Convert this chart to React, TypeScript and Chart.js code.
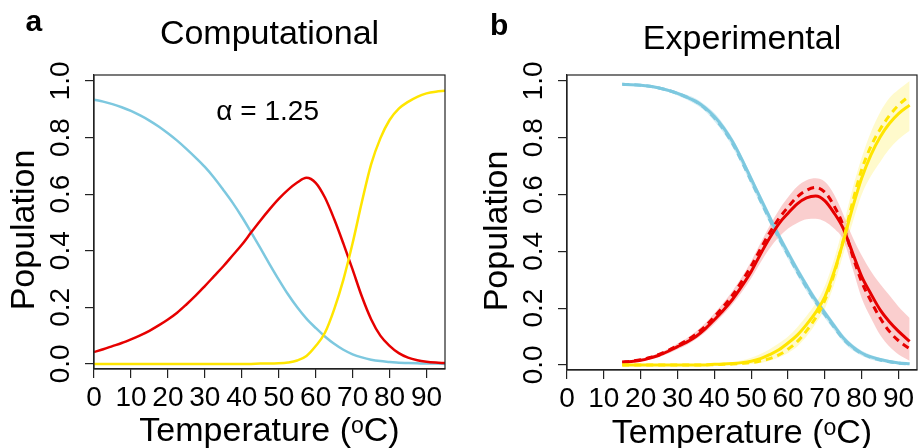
import React, { useEffect, useRef } from "react";
import { Chart, registerables } from "chart.js";

Chart.register(...registerables);

const FONT = "'Liberation Sans', Arial, Helvetica, sans-serif";

// ---------- Panel a (Computational) ----------
const tempA = [0, 2.5, 5, 7.5, 10, 12.5, 15, 17.5, 20, 22.5, 25, 27.5, 30, 32.5, 35, 37.5, 40, 42.5, 45, 47.5, 50, 52.5, 55, 57.5, 60, 62.5, 65, 67.5, 70, 72.5, 75, 77.5, 80, 82.5, 85, 87.5, 90, 92.5, 95];
const blueA = [0.934, 0.927, 0.918, 0.907, 0.894, 0.878, 0.86, 0.839, 0.815, 0.789, 0.76, 0.729, 0.696, 0.658, 0.615, 0.57, 0.52, 0.466, 0.41, 0.353, 0.298, 0.246, 0.2, 0.16, 0.127, 0.097, 0.071, 0.05, 0.034, 0.023, 0.015, 0.01, 0.007, 0.004, 0.003, 0.002, 0.001, 0.001, 0.0];
const redA = [0.042, 0.052, 0.063, 0.074, 0.087, 0.101, 0.117, 0.136, 0.157, 0.181, 0.21, 0.241, 0.275, 0.31, 0.345, 0.383, 0.421, 0.464, 0.506, 0.546, 0.583, 0.615, 0.641, 0.658, 0.64, 0.588, 0.512, 0.425, 0.333, 0.238, 0.158, 0.1, 0.064, 0.038, 0.022, 0.013, 0.008, 0.005, 0.003];
const yellowA = [0, 0, 0, 0, 0, 0, 0, 0, 0, 0, 0, 0, 0, 0, 0, 0, 0, 0, 0.001, 0.001, 0.002, 0.005, 0.012, 0.028, 0.063, 0.11, 0.193, 0.298, 0.427, 0.572, 0.705, 0.797, 0.862, 0.902, 0.926, 0.944, 0.956, 0.962, 0.965];

// ---------- Panel b (Experimental) ----------
const tempB = [15, 17.5, 20, 22.5, 25, 27.5, 30, 32.5, 35, 37.5, 40, 42.5, 45, 47.5, 50, 52.5, 55, 57.5, 60, 62.5, 65, 67.5, 70, 72.5, 75, 77.5, 80, 82.5, 85, 87.5, 90, 93];
const blueB = [0.988, 0.987, 0.985, 0.981, 0.975, 0.967, 0.956, 0.943, 0.928, 0.905, 0.875, 0.835, 0.785, 0.723, 0.655, 0.587, 0.52, 0.455, 0.394, 0.335, 0.28, 0.228, 0.183, 0.138, 0.095, 0.064, 0.042, 0.028, 0.019, 0.012, 0.007, 0.004];
const blueBDash = [0.988, 0.987, 0.985, 0.981, 0.975, 0.967, 0.956, 0.943, 0.927, 0.903, 0.87, 0.829, 0.778, 0.715, 0.647, 0.579, 0.512, 0.448, 0.387, 0.328, 0.273, 0.222, 0.177, 0.133, 0.091, 0.061, 0.04, 0.026, 0.017, 0.011, 0.006, 0.003];
const blueBHi = [0.99, 0.989, 0.988, 0.985, 0.98, 0.973, 0.963, 0.951, 0.937, 0.915, 0.887, 0.847, 0.797, 0.735, 0.668, 0.6, 0.533, 0.468, 0.407, 0.348, 0.292, 0.24, 0.194, 0.149, 0.105, 0.073, 0.05, 0.035, 0.025, 0.017, 0.011, 0.008];
const blueBLo = [0.986, 0.985, 0.982, 0.977, 0.97, 0.961, 0.949, 0.935, 0.917, 0.893, 0.858, 0.817, 0.766, 0.703, 0.634, 0.566, 0.498, 0.434, 0.373, 0.315, 0.26, 0.21, 0.165, 0.122, 0.081, 0.052, 0.032, 0.019, 0.011, 0.006, 0.002, 0.0];

const redB = [0.009, 0.012, 0.016, 0.024, 0.034, 0.048, 0.064, 0.08, 0.1, 0.127, 0.159, 0.193, 0.232, 0.278, 0.329, 0.39, 0.447, 0.497, 0.534, 0.567, 0.588, 0.595, 0.578, 0.535, 0.48, 0.395, 0.311, 0.25, 0.194, 0.152, 0.118, 0.083];
const redBDash = [0.01, 0.013, 0.018, 0.026, 0.037, 0.051, 0.068, 0.086, 0.108, 0.136, 0.17, 0.206, 0.247, 0.295, 0.348, 0.408, 0.465, 0.515, 0.556, 0.592, 0.615, 0.625, 0.608, 0.56, 0.49, 0.385, 0.292, 0.225, 0.165, 0.118, 0.085, 0.057];
const redBHi = [0.012, 0.016, 0.021, 0.03, 0.042, 0.057, 0.075, 0.094, 0.118, 0.147, 0.182, 0.22, 0.262, 0.31, 0.365, 0.428, 0.49, 0.545, 0.59, 0.628, 0.65, 0.657, 0.645, 0.6, 0.53, 0.45, 0.385, 0.33, 0.285, 0.245, 0.205, 0.165];
const redBLo = [0.007, 0.009, 0.013, 0.019, 0.028, 0.04, 0.055, 0.07, 0.09, 0.115, 0.145, 0.178, 0.215, 0.258, 0.305, 0.36, 0.41, 0.45, 0.48, 0.5, 0.513, 0.515, 0.505, 0.48, 0.44, 0.34, 0.235, 0.165, 0.105, 0.065, 0.037, 0.015];

const yellowB = [0, 0, 0, 0, 0, 0, 0, 0, 0, 0, 0.002, 0.003, 0.005, 0.008, 0.013, 0.022, 0.036, 0.053, 0.077, 0.105, 0.142, 0.185, 0.24, 0.328, 0.435, 0.553, 0.658, 0.74, 0.803, 0.85, 0.885, 0.915];
const yellowBDash = [0, 0, 0, 0, 0, 0, 0, 0, 0, 0, 0.001, 0.002, 0.003, 0.005, 0.008, 0.014, 0.022, 0.035, 0.055, 0.082, 0.12, 0.166, 0.228, 0.32, 0.44, 0.572, 0.688, 0.77, 0.83, 0.878, 0.915, 0.948];
const yellowBHi = [0.002, 0.002, 0.002, 0.002, 0.002, 0.002, 0.002, 0.003, 0.003, 0.004, 0.005, 0.007, 0.01, 0.016, 0.025, 0.038, 0.055, 0.076, 0.1, 0.133, 0.172, 0.217, 0.278, 0.372, 0.49, 0.62, 0.73, 0.82, 0.89, 0.94, 0.97, 1.0];
const yellowBLo = [0, 0, 0, 0, 0, 0, 0, 0, 0, 0, 0, 0, 0.001, 0.002, 0.003, 0.007, 0.015, 0.026, 0.042, 0.065, 0.1, 0.145, 0.199, 0.282, 0.39, 0.5, 0.6, 0.665, 0.715, 0.76, 0.795, 0.825];

// ---------- Axes ----------
const xTicks = [0, 10, 20, 30, 40, 50, 60, 70, 80, 90];
const yTicks = [0, 0.2, 0.4, 0.6, 0.8, 1.0];
const X_MIN = 0;
const X_MAX = 95;
const Y_MIN = -0.018;
const Y_MAX = 1.021;

const BLUE = "#7DC8DF";
const RED = "#E60000";
const YELLOW = "#FFE500";
const BLUE_BAND = "rgba(125,200,223,0.35)";
const RED_BAND = "rgba(235,60,60,0.25)";
const YELLOW_BAND = "rgba(255,228,0,0.2)";
const AXIS = "#222";

const pts = (xs: number[], ys: number[]) => xs.map((x, i) => ({ x, y: ys[i] }));

const line = (label: string, xs: number[], ys: number[], color: string, width: number, order: number, dash: number[] = []) => ({
  label,
  data: pts(xs, ys),
  borderColor: color,
  backgroundColor: color,
  borderWidth: width,
  borderDash: dash,
  borderCapStyle: "butt",
  pointRadius: 0,
  fill: false,
  cubicInterpolationMode: "monotone",
  order,
});

const band = (label: string, xs: number[], hi: number[], lo: number[], color: string) => [
  { label: label + " upper", data: pts(xs, hi), borderWidth: 0, borderColor: "rgba(0,0,0,0)", backgroundColor: color, pointRadius: 0, fill: "+1", cubicInterpolationMode: "monotone", order: 10 },
  { label: label + " lower", data: pts(xs, lo), borderWidth: 0, borderColor: "rgba(0,0,0,0)", backgroundColor: color, pointRadius: 0, fill: false, cubicInterpolationMode: "monotone", order: 10 },
];

type Panel = {
  title: string;
  titlePadTop: number;
  titlePadBottom: number;
  yAxisWidth: number;
  xAxisHeight: number;
  rightPad: number;
  xTitlePadBottom: number;
  letter: string;
  letterX: number;
  letterY: number;
  yTitleX: number;
  yTitleY: number;
  note?: { text: string; x: number; y: number };
};

const textPlugin = (p: Panel) => ({
  id: "panelText",
  afterDraw(chart: any) {
    const { ctx, chartArea } = chart;
    ctx.save();
    ctx.strokeStyle = AXIS;
    ctx.lineWidth = 1.2;
    ctx.strokeRect(chartArea.left, chartArea.top, chartArea.right - chartArea.left, chartArea.bottom - chartArea.top);
    ctx.fillStyle = "#000";
    ctx.textBaseline = "alphabetic";
    ctx.textAlign = "left";
    ctx.font = `bold 30px ${FONT}`;
    ctx.fillText(p.letter, p.letterX, p.letterY);
    if (p.note) {
      ctx.font = `28px ${FONT}`;
      ctx.textAlign = "center";
      const nx = chart.scales.x.getPixelForValue(p.note.x);
      const ny = chart.scales.y.getPixelForValue(p.note.y);
      ctx.fillText(p.note.text, nx, ny);
    }
    ctx.translate(p.yTitleX, p.yTitleY);
    ctx.rotate(-Math.PI / 2);
    ctx.textAlign = "center";
    ctx.font = `34px ${FONT}`;
    ctx.fillText("Population", 0, 0);
    ctx.restore();
  },
});

const makeConfig = (p: Panel, datasets: any[]): any => ({
  type: "line",
  data: { datasets },
  options: {
    responsive: false,
    maintainAspectRatio: false,
    devicePixelRatio: 1,
    animation: false,
    layout: { padding: { left: 0, right: p.rightPad, top: 0, bottom: 0 } },
    plugins: {
      legend: { display: false },
      tooltip: { enabled: false },
      title: {
        display: true,
        text: p.title,
        fullSize: false,
        color: "#000",
        font: { family: FONT, size: 34, weight: "normal", lineHeight: 1.2 },
        padding: { top: p.titlePadTop, bottom: p.titlePadBottom },
      },
    },
    scales: {
      x: {
        type: "linear",
        min: X_MIN,
        max: X_MAX,
        afterBuildTicks: (s: any) => {
          s.ticks = xTicks.map((v) => ({ value: v }));
        },
        afterFit: (s: any) => {
          s.height = p.xAxisHeight;
        },
        ticks: {
          autoSkip: false,
          maxRotation: 0,
          minRotation: 0,
          padding: 3,
          color: "#000",
          font: { family: FONT, size: 28, lineHeight: 1.2 },
          callback: (v: any) => String(v),
        },
        grid: { drawOnChartArea: false, drawTicks: true, tickLength: 9, color: AXIS, lineWidth: 1.2 },
        border: { display: true, color: AXIS, width: 1.2 },
        title: {
          display: true,
          text: "Temperature (ᵒC)",
          color: "#000",
          font: { family: FONT, size: 34, lineHeight: 1 },
          padding: { top: 0, bottom: p.xTitlePadBottom },
        },
      },
      y: {
        type: "linear",
        min: Y_MIN,
        max: Y_MAX,
        afterBuildTicks: (s: any) => {
          s.ticks = yTicks.map((v) => ({ value: v }));
        },
        afterFit: (s: any) => {
          s.width = p.yAxisWidth;
        },
        ticks: {
          autoSkip: false,
          minRotation: 90,
          maxRotation: 90,
          crossAlign: "center",
          padding: 4,
          color: "#000",
          font: { family: FONT, size: 28, lineHeight: 1.2 },
          callback: (v: any) => Number(v).toFixed(1),
        },
        grid: { drawOnChartArea: false, drawTicks: true, tickLength: 9, color: AXIS, lineWidth: 1.2 },
        border: { display: true, color: AXIS, width: 1.2 },
      },
    },
  },
  plugins: [textPlugin(p)],
});

const panelA: Panel = {
  title: "Computational",
  titlePadTop: 14.6,
  titlePadBottom: 19.6,
  yAxisWidth: 94,
  xAxisHeight: 79,
  rightPad: 15,
  xTitlePadBottom: -1,
  letter: "a",
  letterX: 25.5,
  letterY: 30.7,
  yTitleX: 34.3,
  yTitleY: 230,
  note: { text: "α = 1.25", x: 47, y: 0.862 },
};

const panelB: Panel = {
  title: "Experimental",
  titlePadTop: 18.9,
  titlePadBottom: 15.3,
  yAxisWidth: 107,
  xAxisHeight: 78,
  rightPad: 2,
  xTitlePadBottom: -3,
  letter: "b",
  letterX: 30,
  letterY: 35,
  yTitleX: 46.5,
  yTitleY: 231,
};

const datasetsA = [
  line("Species 1", tempA, blueA, BLUE, 2.5, 3),
  line("Species 2", tempA, redA, RED, 2.5, 2),
  line("Species 3", tempA, yellowA, YELLOW, 2.5, 1),
];

const datasetsB = [
  line("Species 1 fit", tempB, blueB, BLUE, 3, 4),
  line("Species 1 model", tempB, blueBDash, BLUE, 3, 5, [7, 5]),
  line("Species 2 fit", tempB, redB, RED, 3, 2),
  line("Species 2 model", tempB, redBDash, RED, 3, 3, [7, 5]),
  line("Species 3 fit", tempB, yellowB, YELLOW, 3, 0),
  line("Species 3 model", tempB, yellowBDash, YELLOW, 3, 1, [7, 5]),
  ...band("Species 1 CI", tempB, blueBHi, blueBLo, BLUE_BAND),
  ...band("Species 2 CI", tempB, redBHi, redBLo, RED_BAND),
  ...band("Species 3 CI", tempB, yellowBHi, yellowBLo, YELLOW_BAND),
];

export default function App() {
  const refA = useRef<HTMLCanvasElement | null>(null);
  const refB = useRef<HTMLCanvasElement | null>(null);

  useEffect(() => {
    const a = new Chart(refA.current as HTMLCanvasElement, makeConfig(panelA, datasetsA));
    const b = new Chart(refB.current as HTMLCanvasElement, makeConfig(panelB, datasetsB));
    return () => {
      a.destroy();
      b.destroy();
    };
  }, []);

  return (
    <div style={{ position: "fixed", left: 0, top: 0, width: 919, height: 448, background: "#fff", overflow: "hidden" }}>
      <canvas ref={refA} width={460} height={448} style={{ position: "absolute", left: 0, top: 0, width: 460, height: 448 }} />
      <canvas ref={refB} width={459} height={448} style={{ position: "absolute", left: 460, top: 0, width: 459, height: 448 }} />
    </div>
  );
}
